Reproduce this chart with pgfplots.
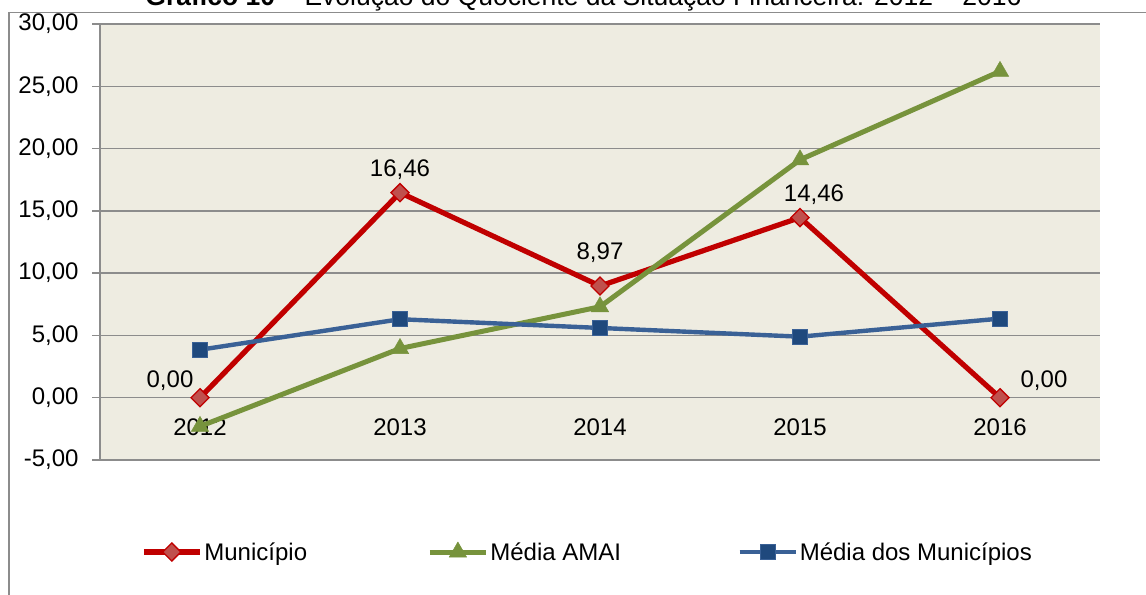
\documentclass[border=0pt]{standalone}
\usepackage{pgfplots}
\pgfplotsset{compat=1.18}
\usetikzlibrary{calc}
\usepackage{fontspec}
\setmainfont{Liberation Sans}
\definecolor{bgc}{RGB}{238,236,225}
\definecolor{gridc}{RGB}{140,140,140}
\definecolor{redl}{RGB}{192,0,0}
\definecolor{redm}{RGB}{192,80,77}
\definecolor{greenl}{RGB}{119,147,60}
\definecolor{bluel}{RGB}{58,97,150}
\definecolor{bluem}{RGB}{31,73,125}
\newcommand\cf{\fontsize{24bp}{28bp}\selectfont}
\begin{document}
\begin{tikzpicture}[x=1bp,y=1bp]
\begin{axis}[
  width=1000bp, height=436bp, scale only axis,
  xmin=-0.5, xmax=4.5, ymin=-5, ymax=30,
  xtick={0,1,2,3,4}, xticklabels={2012,2013,2014,2015,2016},
  ytick={-5,0,5,10,15,20,25,30},
  axis background/.style={fill=bgc},
  ymajorgrids, grid style={gridc, line width=1.3bp},
  axis x line*=bottom, axis y line*=left,
  axis line style={-, gridc, line width=1.3bp},
  xtick style={draw=none},
  ytick style={gridc, line width=1.3bp},
  tick align=outside, major tick length=8bp,
  xticklabel style={yshift=53bp, font=\cf},
  yticklabel style={font=\cf, xshift=-10bp, /pgf/number format/fixed, /pgf/number format/fixed zerofill, /pgf/number format/precision=2, /pgf/number format/use comma, /pgf/number format/assume math mode=true},
  legend columns=3,
  legend style={at={(axis description cs:0.041,-0.211)}, anchor=west, draw=none, fill=none, font=\cf, inner sep=0pt},
  legend cell align=left,
  legend image code/.code={\draw[mark repeat=2,mark phase=2] plot coordinates {(0bp,0bp) (28bp,0bp) (56bp,0bp)};},
  clip=false,
]
\addplot[redl, line width=5.2bp, mark=square*, mark size=6.4bp, mark options={rotate=45, fill=redm, draw=redl, line width=1.3bp}]
  coordinates {(0,0) (1,16.46) (2,8.97) (3,14.46) (4,0)};
\addlegendentry{\makebox[221bp][l]{Município}}
\addplot[greenl, line width=5bp, mark=triangle*, mark size=10bp, mark options={fill=greenl, draw=greenl, line width=0.5bp}]
  coordinates {(0,-2.3) (1,3.95) (2,7.3) (3,19.1) (4,26.2)};
\addlegendentry{\makebox[245bp][l]{Média AMAI}}
\addplot[bluel, line width=4.4bp, mark=square*, mark size=7.5bp, mark options={fill=bluem, draw=bluel, line width=1bp}]
  coordinates {(0,3.85) (1,6.3) (2,5.6) (3,4.9) (4,6.35)};
\addlegendentry{Média dos Municípios}
\node[font=\cf, anchor=base] at (axis cs:1,16.46) [yshift=16bp] {16,46};
\node[font=\cf, anchor=base] at (axis cs:2,8.97) [yshift=26bp] {8,97};
\node[font=\cf, anchor=base] at (axis cs:3,14.46) [yshift=16bp, xshift=14bp] {14,46};
\node[font=\cf, anchor=base] at (axis cs:0,0) [yshift=10bp, xshift=-30bp] {0,00};
\node[font=\cf, anchor=base] at (axis cs:4,0) [yshift=10bp, xshift=44bp] {0,00};
\coordinate (tl) at (rel axis cs:-0.1,1.055046);
\coordinate (br) at (rel axis cs:1.046,-0.307339);
\end{axis}
\pgfresetboundingbox
\useasboundingbox (tl) rectangle (br);
\draw[gridc, line width=1.2bp] ($(tl)+(9,-12.5)$) -- ($(tl)+(1160,-12.5)$);
\draw[gridc, line width=1.2bp] ($(tl)+(9,-12.5)$) -- ($(tl)+(9,-610)$);
\node[anchor=base, font=\fontsize{26.5bp}{30bp}\selectfont, inner sep=0] at ($(tl)+(583.5,-6)$) {\textbf{Gráfico 10} – Evolução do Quociente da Situação Financeira: 2012 – 2016};
\end{tikzpicture}
\end{document}
